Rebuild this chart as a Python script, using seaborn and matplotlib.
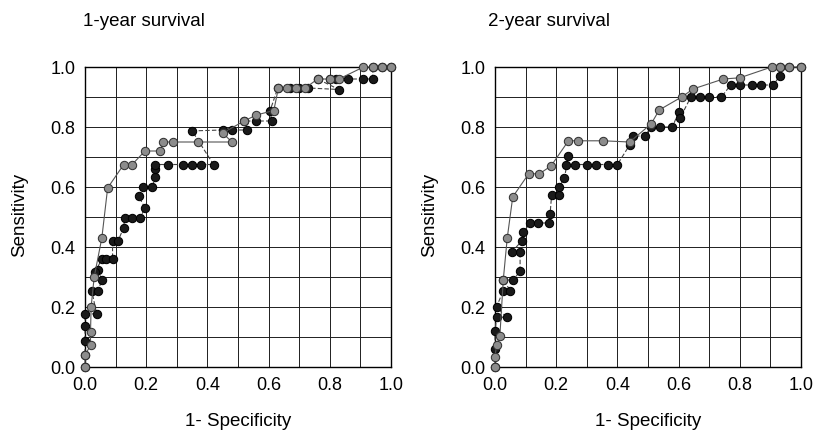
import numpy as np
import pandas as pd
import matplotlib
matplotlib.use("Agg")
import matplotlib.pyplot as plt
import seaborn as sns

# 1-year survival, gray curve
y1_gray_fpr = [0.0, 0.0, 0.018, 0.018, 0.02, 0.03, 0.055, 0.074, 0.126, 0.153, 0.196, 0.245,
               0.256, 0.289, 0.37, 0.48, 0.45, 0.52, 0.56, 0.617, 0.632, 0.66, 0.69, 0.72,
               0.76, 0.80, 0.83, 0.91, 0.94, 0.97, 1.0]
y1_gray_tpr = [0.0, 0.04, 0.072, 0.116, 0.2, 0.3, 0.43, 0.597, 0.674, 0.674, 0.72, 0.72,
               0.75, 0.75, 0.75, 0.75, 0.78, 0.82, 0.84, 0.855, 0.93, 0.93, 0.93, 0.93,
               0.96, 0.96, 0.96, 1.0, 1.0, 1.0, 1.0]

# 1-year survival, black curve
y1_black_fpr = [0.0, 0.0, 0.0, 0.0, 0.0, 0.038, 0.022, 0.043, 0.055, 0.043, 0.033, 0.055,
                0.07, 0.09, 0.09, 0.108, 0.126, 0.13, 0.155, 0.18, 0.196, 0.175, 0.19,
                0.22, 0.23, 0.23, 0.23, 0.27, 0.32, 0.35, 0.38, 0.42, 0.35, 0.45, 0.48,
                0.53, 0.52, 0.56, 0.61, 0.605, 0.63, 0.67, 0.70, 0.73, 0.83, 0.76, 0.80,
                0.82, 0.86, 0.91, 0.94, 0.94, 0.97, 1.0]
y1_black_tpr = [0.0, 0.04, 0.088, 0.138, 0.177, 0.177, 0.255, 0.255, 0.29, 0.322, 0.316,
                0.36, 0.36, 0.36, 0.42, 0.42, 0.464, 0.497, 0.497, 0.497, 0.53, 0.57, 0.6,
                0.6, 0.635, 0.66, 0.675, 0.675, 0.675, 0.675, 0.675, 0.675, 0.787, 0.79,
                0.79, 0.79, 0.82, 0.82, 0.82, 0.855, 0.93, 0.93, 0.93, 0.93, 0.925, 0.96,
                0.96, 0.96, 0.96, 0.96, 0.96, 1.0, 1.0, 1.0]

# 2-year survival, gray curve
y2_gray_fpr = [0.0, 0.0, 0.005, 0.016, 0.027, 0.04, 0.058, 0.11, 0.145, 0.183, 0.24, 0.27,
               0.354, 0.44, 0.51, 0.537, 0.61, 0.648, 0.746, 0.80, 0.904, 0.93, 0.96, 1.0]
y2_gray_tpr = [0.0, 0.034, 0.072, 0.105, 0.29, 0.43, 0.567, 0.644, 0.644, 0.67, 0.754, 0.754,
               0.754, 0.75, 0.81, 0.857, 0.90, 0.927, 0.96, 0.964, 1.0, 1.0, 1.0, 1.0]

# 2-year survival, black curve
y2_black_fpr = [0.0, 0.0, 0.0, 0.005, 0.038, 0.005, 0.027, 0.05, 0.027, 0.06, 0.082, 0.082,
                0.055, 0.087, 0.093, 0.115, 0.14, 0.175, 0.18, 0.185, 0.21, 0.21, 0.227,
                0.24, 0.232, 0.26, 0.30, 0.33, 0.37, 0.40, 0.44, 0.45, 0.49, 0.51, 0.54,
                0.58, 0.60, 0.605, 0.64, 0.67, 0.70, 0.74, 0.77, 0.80, 0.84, 0.87, 0.91,
                0.93, 0.93, 0.96, 1.0]
y2_black_tpr = [0.0, 0.06, 0.12, 0.166, 0.166, 0.2, 0.255, 0.255, 0.29, 0.29, 0.32, 0.383,
                0.383, 0.42, 0.45, 0.48, 0.48, 0.48, 0.51, 0.573, 0.573, 0.6, 0.63, 0.705,
                0.675, 0.675, 0.675, 0.675, 0.675, 0.675, 0.74, 0.77, 0.77, 0.80, 0.80,
                0.80, 0.85, 0.83, 0.90, 0.90, 0.90, 0.90, 0.94, 0.94, 0.94, 0.94, 0.94,
                0.97, 1.0, 1.0, 1.0]

titles = ["1-year survival", "2-year survival"]
ticks = [0.0, 0.2, 0.4, 0.6, 0.8, 1.0]

sns.set_style("white")
plt.rcParams["font.family"] = ["Liberation Sans", "DejaVu Sans"]
plt.rcParams["text.color"] = "black"
plt.rcParams["xtick.color"] = "black"
plt.rcParams["ytick.color"] = "black"
plt.rcParams["axes.labelcolor"] = "black"

W, H = 817, 433
fig = plt.figure(figsize=(W / 100, H / 100), dpi=100)
ax_pos = [[85 / W, 66 / H, 306 / W, 300 / H],
          [495 / W, 66 / H, 306 / W, 300 / H]]
title_x = [83, 488]
ylabel_x = [20, 430]

curves = [
    ((y1_gray_fpr, y1_gray_tpr), (y1_black_fpr, y1_black_tpr)),
    ((y2_gray_fpr, y2_gray_tpr), (y2_black_fpr, y2_black_tpr)),
]

for i, (gray, black) in enumerate(curves):
    ax = fig.add_axes(ax_pos[i])
    # grid every 0.1
    for v in np.arange(0.1, 1.01, 0.1):
        ax.axvline(v, color="#1e1e1e", lw=0.7, zorder=0)
        ax.axhline(v, color="#1e1e1e", lw=0.7, zorder=0)

    df_b = pd.DataFrame({"fpr": black[0], "tpr": black[1]})
    df_g = pd.DataFrame({"fpr": gray[0], "tpr": gray[1]})
    # estimator=None keeps every point (no averaging of repeated x values)
    sns.lineplot(data=df_b, x="fpr", y="tpr", sort=False, estimator=None, ax=ax,
                 color="#444444", lw=0.8, linestyle=(0, (4, 2)), marker="o",
                 markersize=6, markerfacecolor="#1a1a1a", markeredgecolor="#000000",
                 zorder=3, clip_on=False)
    sns.lineplot(data=df_g, x="fpr", y="tpr", sort=False, estimator=None, ax=ax,
                 color="#555555", lw=0.8, marker="o", markersize=6,
                 markerfacecolor="#8c8c8c", markeredgecolor="#333333", zorder=4,
                 clip_on=False)

    ax.set_xlim(0, 1.0)
    ax.set_ylim(0, 1.0)
    ax.set_xticks(ticks)
    ax.set_yticks(ticks)
    ax.set_xticklabels([f"{t:.1f}" for t in ticks], fontsize=13)
    ax.set_yticklabels([f"{t:.1f}" for t in ticks], fontsize=13)
    ax.tick_params(axis="both", length=4, width=0.8, color="black", direction="out", pad=3)
    for s in ax.spines.values():
        s.set_color("black")
        s.set_linewidth(1.0)
    ax.set_xlabel("1- Specificity", fontsize=13.5, labelpad=14)
    ax.set_ylabel("")
    fig.text(ylabel_x[i] / W, 1 - 215 / H, "Sensitivity", rotation=90, fontsize=13.5,
             ha="center", va="center")
    fig.text(title_x[i] / W, 1 - 22 / H, titles[i], fontsize=13.5, ha="left", va="center")

fig.savefig("out.png", dpi=100)
